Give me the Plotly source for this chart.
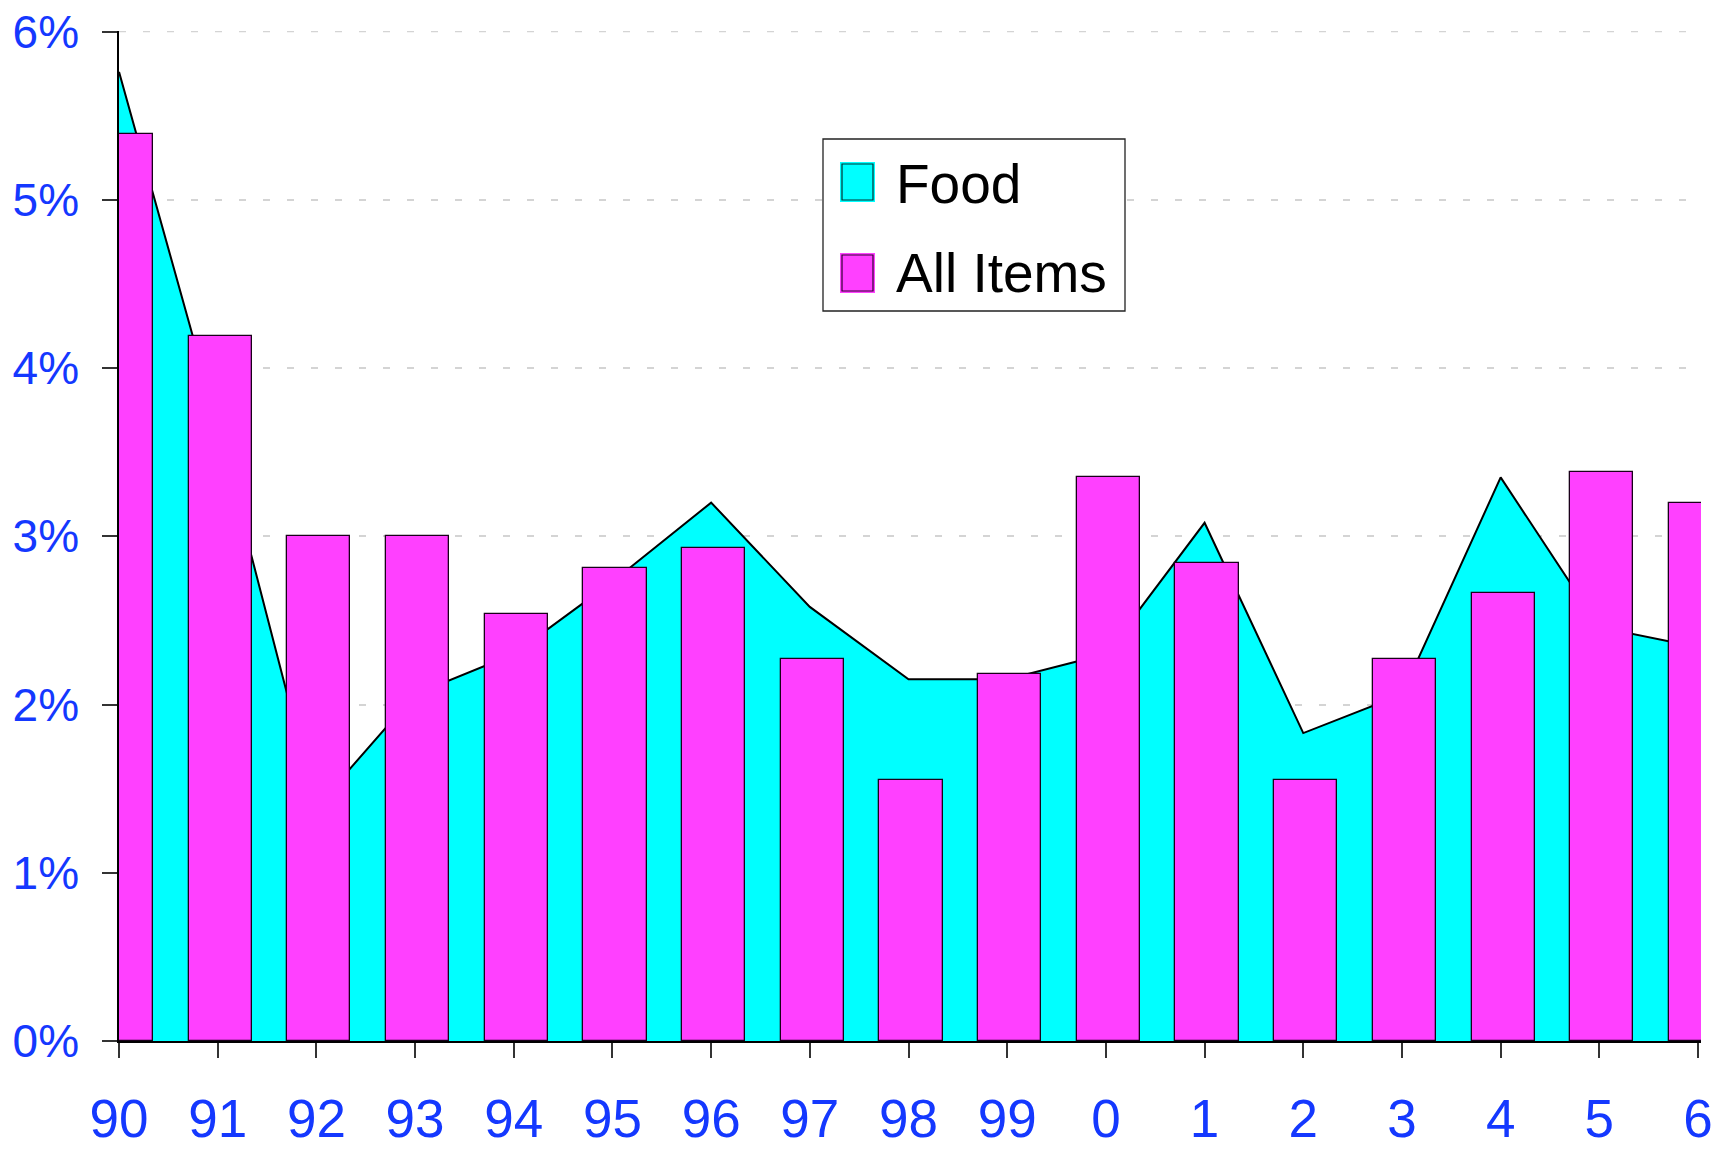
import plotly.graph_objects as go

# Annual percent change, 1990-2006
years = list(range(1990, 2007))
year_labels = ["90", "91", "92", "93", "94", "95", "96", "97", "98", "99",
               "0", "1", "2", "3", "4", "5", "6"]
food = [5.76, 3.66, 1.39, 2.06, 2.30, 2.73, 3.20, 2.58, 2.15, 2.15,
        2.30, 3.08, 1.83, 2.06, 3.35, 2.46, 2.34]
all_items = [5.39, 4.19, 3.00, 3.00, 2.54, 2.81, 2.93, 2.27, 1.55, 2.18,
             3.35, 2.84, 1.55, 2.27, 2.66, 3.38, 3.20]
y_ticks = [0, 1, 2, 3, 4, 5, 6]
y_tick_labels = ["0%", "1%", "2%", "3%", "4%", "5%", "6%"]

FOOD_COLOR = "#00FFFF"
ALL_COLOR = "#FF40FF"
LABEL_BLUE = "#1438FF"
GRID_COLOR = "#d4d4d4"
FONT = "Liberation Sans, Arial, sans-serif"

W, H = 1720, 1151
ML, MR, MT, MB = 119, 19, 31, 110
XR = [1990, 2006.03]
YR = [0, 6.003]

fig = go.Figure()

# Food: filled area on the base axes
fig.add_trace(go.Scatter(
    x=years, y=food, name="Food", mode="lines",
    line=dict(color="black", width=2),
    fill="tozeroy", fillcolor=FOOD_COLOR,
    showlegend=False, xaxis="x", yaxis="y",
))

# All Items: bars on an overlaid pair of axes so they sit above the area
fig.add_trace(go.Bar(
    x=years, y=all_items, name="All Items",
    width=0.64, offset=-0.295,
    marker=dict(color=ALL_COLOR, line=dict(color="#1a001a", width=1.3)),
    showlegend=False, xaxis="x2", yaxis="y2",
))

fig.update_layout(
    width=W, height=H,
    margin=dict(l=ML, r=MR, t=MT, b=MB, autoexpand=False),
    paper_bgcolor="white", plot_bgcolor="white",
    font=dict(family=FONT),
    xaxis=dict(
        range=XR, tickmode="array", tickvals=years, ticktext=year_labels,
        ticks="outside", ticklen=15, tickwidth=1.5, tickcolor="#333333",
        showline=True, linecolor="black", linewidth=1.5,
        showgrid=False, zeroline=False, automargin=False,
        tickfont=dict(size=53, color=LABEL_BLUE, family=FONT),
        ticklabelstandoff=16,
    ),
    yaxis=dict(
        range=YR, tickmode="array", tickvals=y_ticks, ticktext=y_tick_labels,
        ticks="outside", ticklen=15, tickwidth=1.5, tickcolor="#333333",
        showline=True, linecolor="black", linewidth=1.5,
        showgrid=True, gridcolor=GRID_COLOR, gridwidth=1.5,
        griddash="7px,17px", zeroline=False, automargin=False,
        tickfont=dict(size=46, color=LABEL_BLUE, family=FONT),
        ticklabelstandoff=14,
    ),
    xaxis2=dict(range=XR, overlaying="x", visible=False, showgrid=False),
    yaxis2=dict(range=YR, overlaying="y", visible=False, showgrid=False),
    bargap=0,
)

# Legend drawn as a boxed key in pixel positions
pw = W - ML - MR
ph = H - MT - MB


def px(x):
    return (x - ML) / pw


def py(y):
    return (H - MB - y) / ph


shapes = [
    # top gridline at the upper edge of the value range
    dict(type="line", xref="paper", yref="y", x0=0, x1=1, y0=6, y1=6,
         line=dict(color=GRID_COLOR, width=1.5, dash="7px,17px"), layer="below"),
    dict(type="rect", xref="paper", yref="paper",
         x0=px(823), x1=px(1125), y0=py(311), y1=py(139),
         line=dict(color="#222222", width=1.3), fillcolor="white", layer="above"),
]
for top, color, edge in [(162, FOOD_COLOR, "#003333"), (253, ALL_COLOR, "#330033")]:
    shapes.append(dict(type="rect", xref="paper", yref="paper",
                       x0=px(840), x1=px(875), y0=py(top + 40), y1=py(top),
                       line=dict(width=0), fillcolor=color, layer="above"))
    shapes.append(dict(type="rect", xref="paper", yref="paper",
                       x0=px(842), x1=px(873), y0=py(top + 38), y1=py(top + 2),
                       line=dict(color=edge, width=1.2), fillcolor=color, layer="above"))

annotations = [
    dict(text="Food", xref="paper", yref="paper", x=px(894), y=py(184),
         xanchor="left", yanchor="middle", showarrow=False,
         font=dict(size=55, color="black", family=FONT)),
    dict(text="All Items", xref="paper", yref="paper", x=px(894), y=py(273),
         xanchor="left", yanchor="middle", showarrow=False,
         font=dict(size=55, color="black", family=FONT)),
]

fig.update_layout(shapes=shapes, annotations=annotations)

fig.write_html("out.html")
